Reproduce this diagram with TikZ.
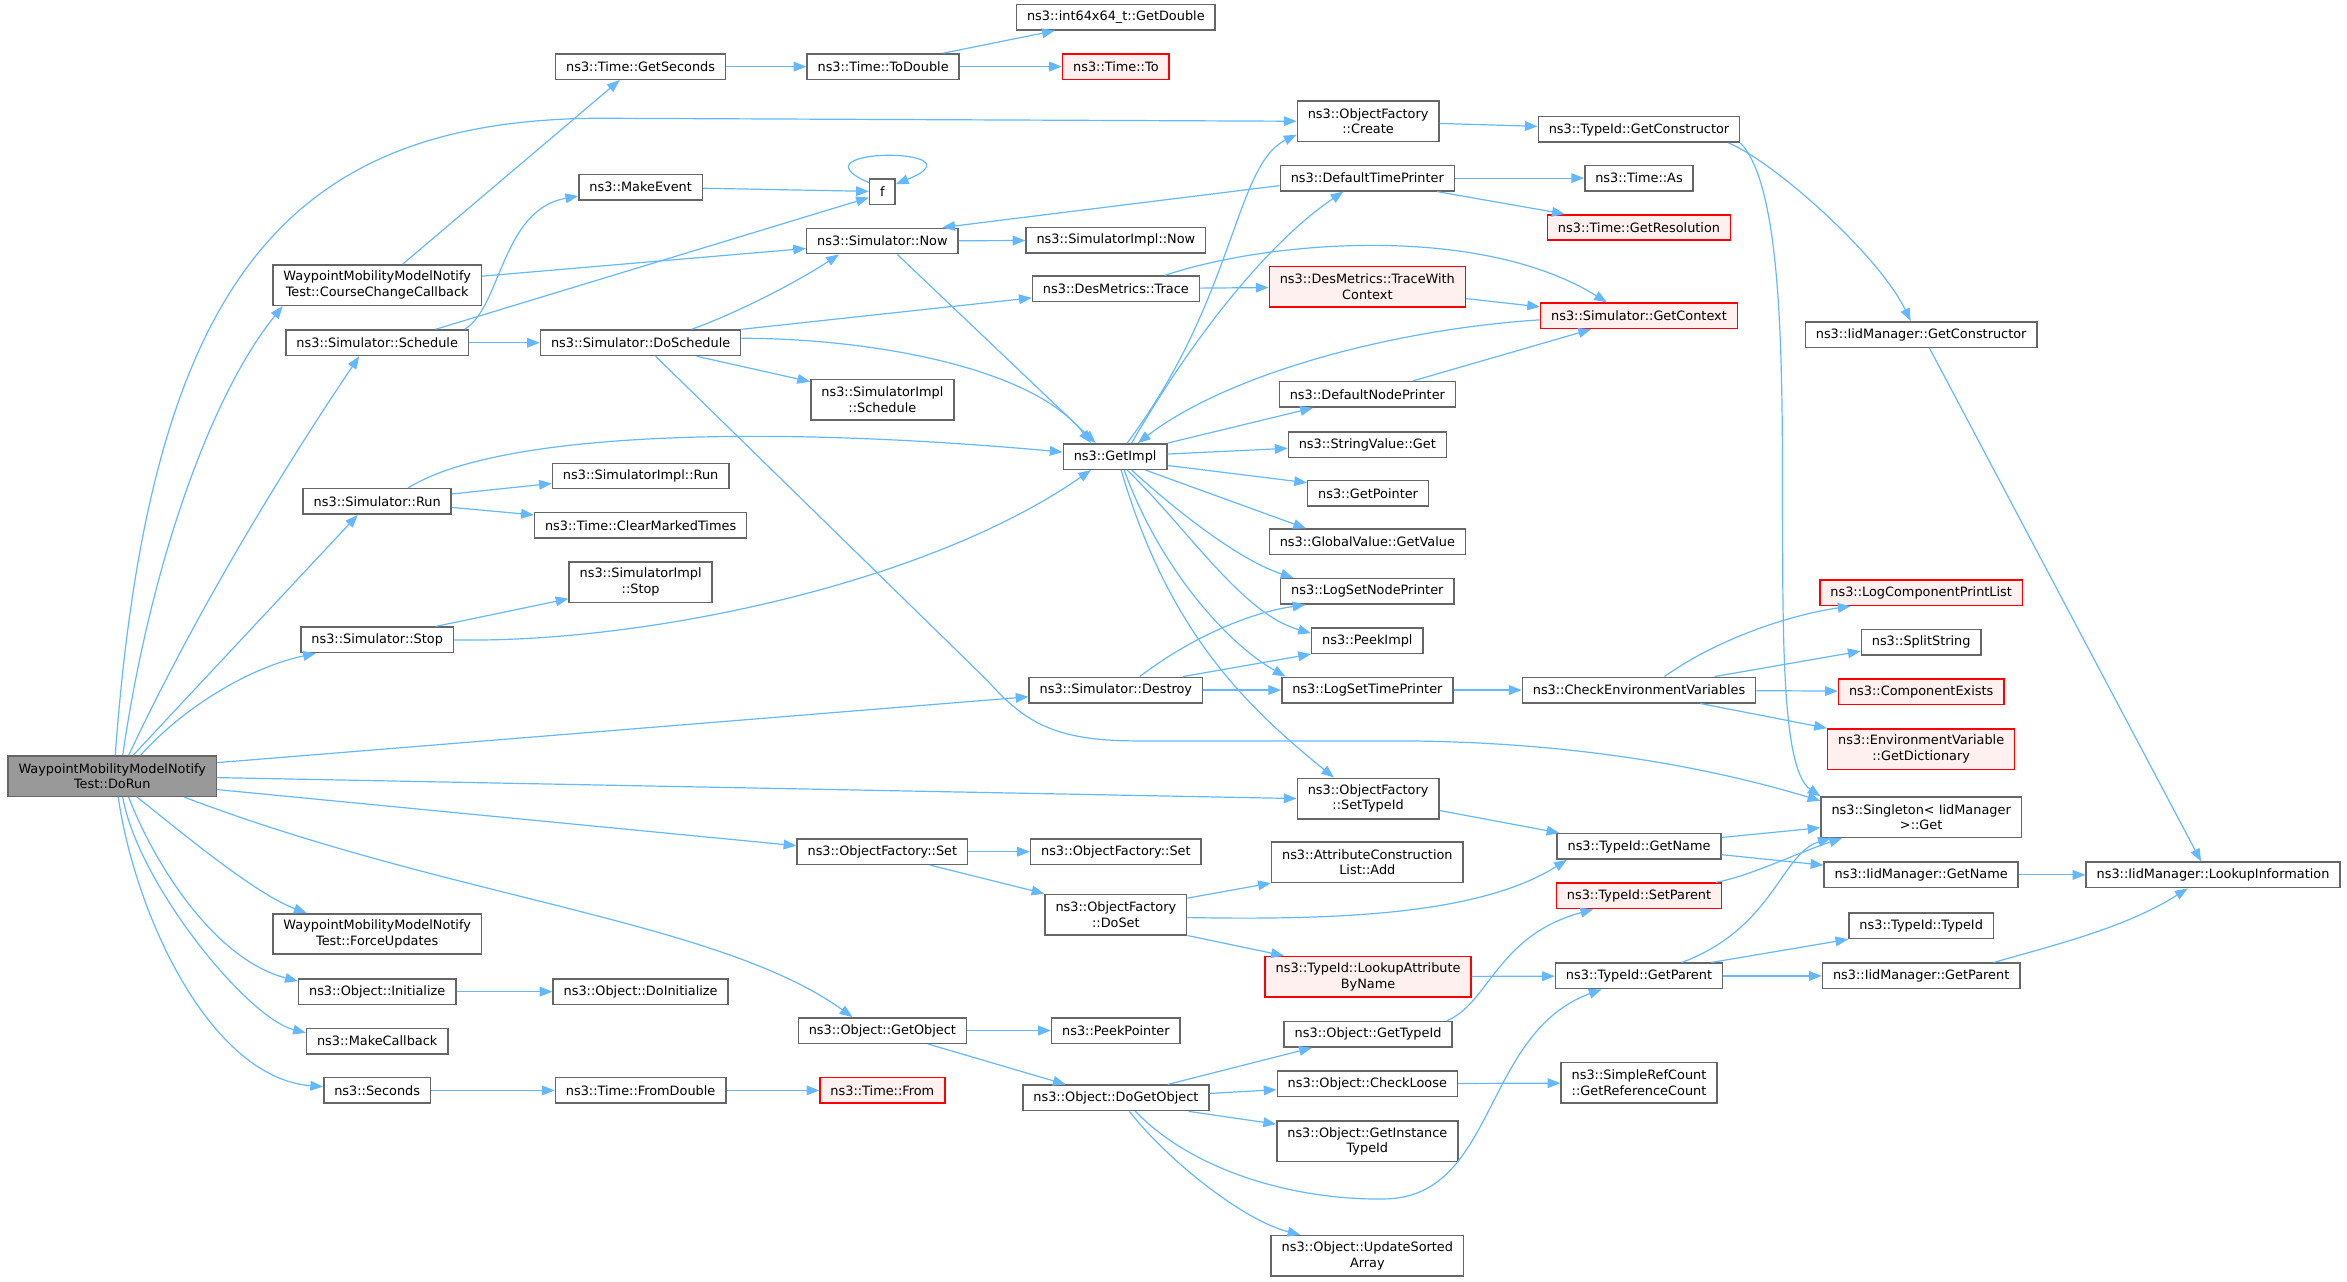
\documentclass[tikz,border=0pt]{standalone}
\usepackage{fontspec}
\setmainfont{DejaVu Sans}
\usetikzlibrary{arrows.meta,positioning}

\definecolor{edgeblue}{HTML}{63B8FF}
\definecolor{boxgray}{HTML}{666666}
\definecolor{rootgray}{HTML}{999999}
\definecolor{redfill}{HTML}{FFF0F0}

\begin{document}
\begin{tikzpicture}[x=1pt,y=-1pt,>={Triangle[length=8.5pt,width=6.5pt]},
    func/.style={draw=boxgray,fill=white,line width=1pt,inner xsep=7pt,inner ysep=2pt,
                 minimum height=17pt,align=center,font=\fontsize{8.6}{10.5}\selectfont},
    two/.style={minimum height=27pt},
    trunc/.style={draw=red,fill=redfill},
    root/.style={fill=rootgray},
    call/.style={->,draw=edgeblue,line width=0.8pt},
    calls/.style={every edge/.append style={call}}]

                \useasboundingbox (0,0) rectangle (1568,856);

                % caller
                \node[func,root,two] (doRun) at (75,518.5) {WaypointMobilityModelNotify\\Test::DoRun};

                % first level
                \node[func,two] (courseCb) at (252,190.5) {WaypointMobilityModelNotify\\Test::CourseChangeCallback};
                \node[func] (schedule) at (252,229) {ns3::Simulator::Schedule};
                \node[func] (run) at (252,335) {ns3::Simulator::Run};
                \node[func] (stop) at (252,427.5) {ns3::Simulator::Stop};
                \node[func,two] (forceUpd) at (252,624) {WaypointMobilityModelNotify\\Test::ForceUpdates};
                \node[func] (initialize) at (252,662.5) {ns3::Object::Initialize};
                \node[func] (makeCb) at (252,695.5) {ns3::MakeCallback};
                \node[func] (seconds) at (252,728.5) {ns3::Seconds};

                \node[func] (getSeconds) at (428,44.5) {ns3::Time::GetSeconds};
                \node[func] (makeEvent) at (428,125) {ns3::MakeEvent};
                \node[func] (doSchedule) at (428,229) {ns3::Simulator::DoSchedule};
                \node[func] (implRun) at (428,318) {ns3::SimulatorImpl::Run};
                \node[func] (clearTimes) at (428,351) {ns3::Time::ClearMarkedTimes};
                \node[func,two] (implStop) at (428,389) {ns3::SimulatorImpl\\::Stop};
                \node[func] (doInit) at (428,662.5) {ns3::Object::DoInitialize};
                \node[func] (fromDouble) at (428,728.5) {ns3::Time::FromDouble};

                \node[func] (toDouble) at (590,44.5) {ns3::Time::ToDouble};
                \node[func] (f) at (589.5,128) {f};
                \node[func] (now) at (589.5,161) {ns3::Simulator::Now};
                \node[func,two] (implSched) at (589.5,267) {ns3::SimulatorImpl\\::Schedule};
                \node[func] (ofSet) at (589.5,569) {ns3::ObjectFactory::Set};
                \node[func] (getObject) at (589.5,688.5) {ns3::Object::GetObject};
                \node[func,trunc] (timeFrom) at (589.5,728.5) {ns3::Time::From};

                \node[func] (getDouble) at (745.5,11.5) {ns3::int64x64\_t::GetDouble};
                \node[func,trunc] (timeTo) at (745.5,44.5) {ns3::Time::To};
                \node[func] (implNow) at (745.5,160.5) {ns3::SimulatorImpl::Now};
                \node[func] (trace) at (745.5,193) {ns3::DesMetrics::Trace};
                \node[func] (getImpl) at (745,305) {ns3::GetImpl};
                \node[func] (destroy) at (745.5,461) {ns3::Simulator::Destroy};
                \node[func] (ofSet2) at (745.5,569) {ns3::ObjectFactory::Set};
                \node[func,two] (doSet) at (745.5,611) {ns3::ObjectFactory\\::DoSet};
                \node[func] (peekPtr) at (745.5,688.5) {ns3::PeekPointer};
                \node[func] (doGetObject) at (745.5,733.5) {ns3::Object::DoGetObject};

                \node[func,two] (create) at (914,81) {ns3::ObjectFactory\\::Create};
                \node[func] (timePrinter) at (913.5,119) {ns3::DefaultTimePrinter};
                \node[func,two,trunc] (traceCtx) at (913.5,191.5) {ns3::DesMetrics::TraceWith\\Context};
                \node[func] (nodePrinter) at (913.5,263.5) {ns3::DefaultNodePrinter};
                \node[func] (strGet) at (913.5,297) {ns3::StringValue::Get};
                \node[func] (getPointer) at (914,329.5) {ns3::GetPointer};
                \node[func] (gvGetValue) at (913.5,362) {ns3::GlobalValue::GetValue};
                \node[func] (logNode) at (913.5,395) {ns3::LogSetNodePrinter};
                \node[func] (peekImpl) at (913.5,428) {ns3::PeekImpl};
                \node[func] (logTime) at (913.5,461) {ns3::LogSetTimePrinter};
                \node[func,two] (setTypeId) at (914,533.5) {ns3::ObjectFactory\\::SetTypeId};
                \node[func,two] (attrAdd) at (913.5,576) {ns3::AttributeConstruction\\List::Add};
                \node[func,two,trunc] (lookupAttr) at (914,652.5) {ns3::TypeId::LookupAttribute\\ByName};
                \node[func] (objTypeId) at (914,691) {ns3::Object::GetTypeId};
                \node[func] (checkLoose) at (913.5,724) {ns3::Object::CheckLoose};
                \node[func,two] (instTypeId) at (913.5,762.5) {ns3::Object::GetInstance\\TypeId};
                \node[func,two] (updSorted) at (913.5,839) {ns3::Object::UpdateSorted\\Array};

                \node[func] (getCtor) at (1095,86.5) {ns3::TypeId::GetConstructor};
                \node[func] (timeAs) at (1095,119) {ns3::Time::As};
                \node[func,trunc] (timeRes) at (1095,152) {ns3::Time::GetResolution};
                \node[func,trunc] (getContext) at (1095,211) {ns3::Simulator::GetContext};
                \node[func] (checkEnv) at (1095,461) {ns3::CheckEnvironmentVariables};
                \node[func] (tidName) at (1095,565.5) {ns3::TypeId::GetName};
                \node[func,trunc] (setParent) at (1095,598.5) {ns3::TypeId::SetParent};
                \node[func] (getParent) at (1095,652) {ns3::TypeId::GetParent};
                \node[func,two] (refCount) at (1095,723.5) {ns3::SimpleRefCount\\::GetReferenceCount};

                \node[func] (iidCtor) at (1283.5,223.5) {ns3::IidManager::GetConstructor};
                \node[func,trunc] (printList) at (1283.5,396) {ns3::LogComponentPrintList};
                \node[func] (splitStr) at (1283.5,429) {ns3::SplitString};
                \node[func,trunc] (compExists) at (1283.5,462) {ns3::ComponentExists};
                \node[func,two,trunc] (envDict) at (1283.5,500.5) {ns3::EnvironmentVariable\\::GetDictionary};
                \node[func,two] (singleton) at (1283.5,546) {ns3::Singleton< IidManager\\>::Get};
                \node[func] (iidName) at (1283.5,584.5) {ns3::IidManager::GetName};
                \node[func] (typeIdCtor) at (1283.5,618.5) {ns3::TypeId::TypeId};
                \node[func] (iidParent) at (1283.5,652) {ns3::IidManager::GetParent};

                \node[func] (lookupInfo) at (1478.5,584.5) {ns3::IidManager::LookupInformation};

                % calls from DoRun
                \draw[call] ([xshift=2pt]doRun.north) .. controls (100,190) and (190,80) .. (400,79) -- (create.west);
                \draw[call] ([xshift=7pt]doRun.north) .. controls (100,380) and (140,265) .. ([xshift=7pt]courseCb.south west);
                \draw[call] ([xshift=11pt]doRun.north) .. controls (140,390) and (205,290) .. ([xshift=-12pt]schedule.south);
                \draw[call] ([xshift=19pt]doRun.north) .. controls (125,470) and (170,445) .. ([xshift=-41pt]stop.south);
                \path[calls] ([xshift=14pt]doRun.north) edge ([xshift=-13pt]run.south)
                             ([yshift=9pt]doRun.east) edge ([yshift=-4.5pt]destroy.west)
                             ([yshift=-1pt]doRun.east) edge (setTypeId.west)
                             ([yshift=-9pt]doRun.east) edge ([yshift=4pt]ofSet.west);
                \draw[call] ([xshift=48pt]doRun.south) .. controls (300,600) and (480,615) .. ([xshift=-20pt]getObject.north);
                \draw[call] ([xshift=16.5pt]doRun.south) .. controls (120,555) and (170,597) .. ([xshift=23pt]forceUpd.north west);
                \draw[call] ([xshift=11pt]doRun.south) .. controls (100,570) and (140,640) .. ([yshift=-2pt]initialize.north west);
                \draw[call] ([xshift=7pt]doRun.south) .. controls (92,590) and (165,680) .. ([yshift=5.5pt]makeCb.west);
                \draw[call] ([xshift=4pt]doRun.south) .. controls (90,610) and (140,720) .. ([yshift=2.5pt]seconds.west);

                % first level calls
                \path[calls] ([xshift=17pt]courseCb.north) edge ([xshift=-14pt]getSeconds.south)
                             ([yshift=6pt]courseCb.east) edge ([yshift=-5pt]now.west);
                \draw[call] ([xshift=-3pt]schedule.north east) .. controls (335,205) and (335,140) .. ([yshift=-6pt]makeEvent.west);
                \path[calls] ([xshift=39pt]schedule.north) edge ([yshift=-4pt]f.west)
                             (schedule) edge (doSchedule);
                \draw[call] ([xshift=20.6pt]run.north) .. controls (330,290) and (500,283) .. ([yshift=3pt]getImpl.west);
                \path[calls] ([yshift=5pt]run.east) edge ([yshift=-5pt]implRun.west)
                             ([yshift=-4pt]run.east) edge ([yshift=7pt]clearTimes.west)
                             ([xshift=39pt]stop.north) edge ([yshift=3pt]implStop.south west);
                \draw[call] (stop.east) .. controls (430,430) and (620,390) .. ([xshift=19pt]getImpl.south west);
                \path[calls] (initialize) edge (doInit)
                             (seconds) edge (fromDouble)
                             (fromDouble) edge (timeFrom)
                             (getSeconds) edge (toDouble)
                             ([xshift=-11pt]toDouble.north east) edge ([xshift=26pt]getDouble.south west)
                             (toDouble) edge (timeTo)
                             (makeEvent) edge (f);
                \draw[call] ([yshift=-3pt]f.north west) .. controls (525,98) and (660,98) .. ([yshift=-4pt]f.north east);

                % scheduler
                \draw[call] ([xshift=34pt]doSchedule.north) .. controls (490,210) and (530,190) .. ([xshift=22pt]now.south west);
                \path[calls] (doSchedule.north east) edge ([yshift=-6pt]trace.west)
                             ([xshift=-30pt]doSchedule.south east) edge ([yshift=-2pt]implSched.north west);
                \draw[call] ([yshift=3pt]doSchedule.east) .. controls (580,226) and (690,245) .. ([xshift=19pt]getImpl.north west);
                \draw[call] ([xshift=10pt]doSchedule.south) -- (660,455) .. controls (685,483) and (705,495) .. (760,495)
                            -- (940,495) .. controls (1060,496) and (1150,515) .. ([yshift=-3pt]singleton.north west);
                \path[calls] (now) edge (implNow)
                             ([xshift=10pt]now.south) edge ([xshift=-13pt]getImpl.north)
                             (trace) edge (traceCtx)
                             ([yshift=-8pt]traceCtx.east) edge ([yshift=-3pt]getContext.north west)
                             ([xshift=-29pt]nodePrinter.north east) edge ([xshift=-32pt]getContext.south);
                \draw[call] ([xshift=32.5pt]trace.north) .. controls (850,160) and (990,150) .. ([xshift=-21.5pt]getContext.north);
                \draw[call] ([yshift=-2.7pt]getContext.west) .. controls (930,220) and (820,250) .. ([xshift=-20pt]getImpl.north east);
                \path[calls] ([yshift=-5pt]timePrinter.west) edge ([xshift=-11pt]now.north east)
                             (timePrinter) edge (timeAs)
                             ([xshift=-12pt]timePrinter.south east) edge ([xshift=12pt]timeRes.north west);

                % GetImpl
                \draw[call] ([xshift=8pt]getImpl.north) .. controls (825,200) and (825,110) .. ([yshift=-9pt]create.west);
                \draw[call] ([xshift=11pt]getImpl.north) .. controls (800,220) and (850,160) .. ([xshift=-16pt]timePrinter.south);
                \path[calls] (getImpl.north east) edge ([xshift=23pt]nodePrinter.south west)
                             (getImpl) edge (strGet)
                             ([yshift=-6pt]getImpl.east) edge ([yshift=7pt]getPointer.west)
                             ([xshift=-15pt]getImpl.south east) edge ([xshift=25pt]gvGetValue.north west);
                \draw[call] ([xshift=11pt]getImpl.south) .. controls (790,345) and (830,375) .. ([xshift=9pt]logNode.north west);
                \draw[call] ([xshift=8pt]getImpl.south) .. controls (795,355) and (830,410) .. ([yshift=5pt]peekImpl.west);
                \draw[call] ([xshift=6pt]getImpl.south) .. controls (775,380) and (820,430) .. ([xshift=3pt]logTime.north west);
                \draw[call] ([xshift=4pt]getImpl.south) .. controls (780,420) and (830,470) .. ([xshift=25pt]setTypeId.north west);

                % destroy and logging
                \draw[call] ([xshift=16pt]destroy.north) .. controls (790,430) and (830,410) .. ([xshift=17pt]logNode.south west);
                \path[calls] ([xshift=-13.6pt]destroy.north east) edge (peekImpl.south west)
                             (destroy) edge (logTime)
                             (logTime) edge (checkEnv)
                             ([xshift=-28pt]checkEnv.north east) edge ([yshift=3pt]splitStr.south west)
                             (checkEnv) edge (compExists)
                             ([xshift=-37.5pt]checkEnv.south east) edge (envDict.north west);
                \draw[call] ([xshift=17pt]checkEnv.north) .. controls (1150,425) and (1200,410) .. ([xshift=21pt]printList.south west);

                % type ids
                \path[calls] (create) edge (getCtor)
                             ([xshift=5.5pt]iidCtor.south) edge ([xshift=-8pt]lookupInfo.north);
                \draw[call] ([xshift=-8pt]getCtor.south east) .. controls (1185,108) and (1255,170) .. ([xshift=-7pt]iidCtor.north);
                \draw[call] (getCtor.south east) .. controls (1215,150) and (1170,500) .. (singleton.north west);
                \path[calls] ([yshift=-8pt]setTypeId.east) edge ([xshift=2pt]tidName.north west)
                             ([yshift=6pt]tidName.east) edge ([yshift=-7pt]singleton.west)
                             ([yshift=-5.5pt]tidName.east) edge ([yshift=6.5pt]iidName.west)
                             (iidName) edge (lookupInfo)
                             (ofSet) edge (ofSet2)
                             ([xshift=32pt]ofSet.south) edge (doSet.north west)
                             ([yshift=-3pt]doSet.north east) edge (attrAdd.south west)
                             (doSet.south east) edge ([xshift=13pt]lookupAttr.north west)
                             (lookupAttr) edge (getParent)
                             ([xshift=-8pt]getParent.north east) edge (typeIdCtor.south west)
                             (getParent) edge (iidParent);
                \draw[call] ([yshift=-2pt]doSet.east) .. controls (900,615) and (990,610) .. ([xshift=7pt]tidName.south west);
                \draw[call] ([xshift=-4.4pt]setParent.north east) .. controls (1170,585) and (1200,570) .. ([xshift=14.5pt]singleton.south west);
                \draw[call] ([xshift=28.6pt]getParent.north) .. controls (1185,620) and (1190,570) .. ([xshift=7pt]singleton.south west);
                \draw[call] ([xshift=-18pt]iidParent.north east) .. controls (1370,632) and (1420,620) .. ([xshift=-17pt]lookupInfo.south);

                % objects
                \path[calls] (getObject) edge (peekPtr)
                             ([xshift=30.5pt]getObject.south) edge ([xshift=-33.5pt]doGetObject.north)
                             ([xshift=-28pt]doGetObject.north east) edge ([xshift=19pt]objTypeId.south west)
                             ([yshift=3pt]doGetObject.east) edge ([yshift=-4pt]checkLoose.west)
                             ([xshift=-14pt]doGetObject.south east) edge ([yshift=-2.5pt]instTypeId.north west)
                             (checkLoose) edge (refCount);
                \draw[call] ([xshift=9pt]doGetObject.south) .. controls (780,775) and (830,815) .. ([xshift=20pt]updSorted.north west);
                \draw[call] ([xshift=13pt]doGetObject.south) .. controls (800,785) and (870,802) .. (925,801)
                            .. controls (1000,800) and (990,690) .. ([xshift=-25pt]getParent.south);
                \draw[call] ([xshift=-4pt]objTypeId.north east) .. controls (995,670) and (1000,625) .. ([xshift=-30.6pt]setParent.south);

            \end{tikzpicture}
\end{document}
